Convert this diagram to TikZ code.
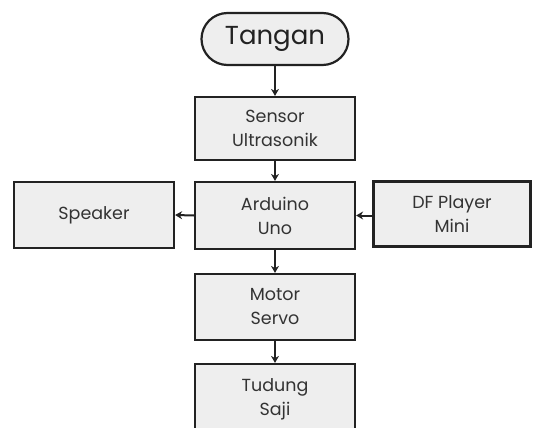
\documentclass[tikz,border=0pt]{standalone}
\usepackage{fontspec}
\setmainfont{Poppins}
\usetikzlibrary{arrows.meta}
\definecolor{boxfill}{HTML}{EEEEEE}
\definecolor{lineclr}{HTML}{222222}
\definecolor{txtclr}{HTML}{333333}
\begin{document}
\begin{tikzpicture}[x=1pt,y=-1pt,
  blk/.style={draw=lineclr,line width=2.2pt,fill=boxfill,rectangle,minimum width=160pt,
    align=center,text=txtclr,font=\fontsize{17.5}{24}\selectfont,inner sep=0pt},
  term/.style={draw=lineclr,line width=2.2pt,fill=boxfill,rectangle,rounded corners=26pt,
    minimum width=147pt,minimum height=52pt,text=lineclr,font=\fontsize{26}{30}\selectfont,inner sep=0pt},
  arr/.style={draw=lineclr,line width=2pt,-{Stealth[length=7pt,width=8pt]}}]
\useasboundingbox (0,0) rectangle (533,428);
\clip (0,0) rectangle (533,428);
\node[term] (tangan) at (275,39) {Tangan};
\node[blk,minimum height=63pt] (sensor) at (275,128.5) {Sensor\\Ultrasonik};
\node[blk,minimum height=67pt] (arduino) at (275,215.5) {Arduino\\Uno};
\node[blk,minimum height=66pt] (speaker) at (94,215) {Speaker};
\node[blk,minimum height=65pt,minimum width=157pt] (df) at (452,214) {DF Player\\Mini};
\node[blk,minimum height=66pt] (motor) at (275,307) {Motor\\Servo};
\node[blk,minimum height=70pt] (tudung) at (275,399) {Tudung\\Saji};
\draw[arr] (tangan.south) -- (sensor.north);
\draw[arr] (sensor.south) -- (arduino.north);
\draw[arr] (arduino.west) -- (speaker.east);
\draw[arr] (df.west |- arduino.east) -- (arduino.east);
\draw[arr] (arduino.south) -- (motor.north);
\draw[arr] (motor.south) -- (tudung.north);
\end{tikzpicture}
\end{document}
